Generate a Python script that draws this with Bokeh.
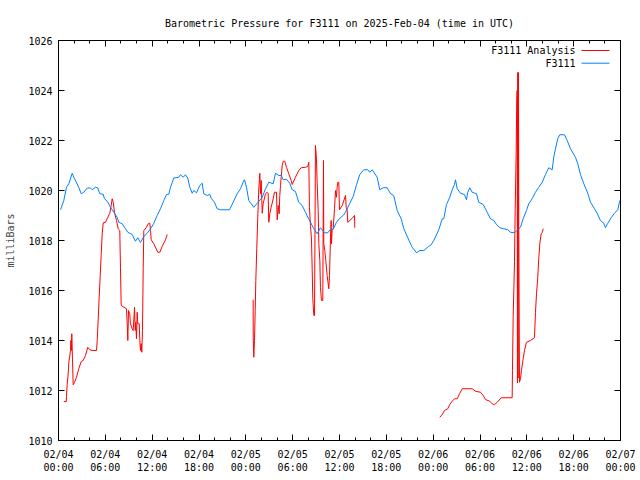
import math
from bokeh.plotting import figure
from bokeh.models import Range1d, FixedTicker, LinearAxis, Label, Arrow
from bokeh.embed import file_html
from bokeh.resources import INLINE

TITLE = "Barometric Pressure for F3111 on 2025-Feb-04 (time in UTC)"
Y_LABEL = "milliBars"
SERIES_NAMES = ["F3111 Analysis", "F3111"]

# x axis: hours since 2025-02-04 00:00 UTC
x_tick_hours = [0, 6, 12, 18, 24, 30, 36, 42, 48, 54, 60, 66, 72]
x_tick_labels = ["02/04\n00:00", "02/04\n06:00", "02/04\n12:00", "02/04\n18:00",
                 "02/05\n00:00", "02/05\n06:00", "02/05\n12:00", "02/05\n18:00",
                 "02/06\n00:00", "02/06\n06:00", "02/06\n12:00", "02/06\n18:00",
                 "02/07\n00:00"]
x_minor_hours = list(range(0, 73, 2))
y_ticks = [1010, 1012, 1014, 1016, 1018, 1020, 1022, 1024, 1026]

# F3111 station pressure
station_hours = [0.26, 0.68, 1.02, 1.32, 1.76, 1.96, 2.60, 2.91, 3.24, 3.68, 4.10, 4.32,
                 4.74, 5.03, 5.29, 5.73, 5.89, 6.24, 6.66, 7.08, 7.52, 7.72, 8.16, 8.58,
                 8.88, 9.44, 9.86, 10.16, 10.50, 10.93, 11.36, 11.79, 12.21, 12.64, 13.07,
                 13.49, 13.84, 14.13, 14.35, 14.77, 15.41, 15.63, 15.97, 16.27, 16.56,
                 16.82, 17.13, 17.33, 17.68, 18.10, 18.41, 18.61, 19.05, 19.38, 19.56,
                 19.98, 20.33, 20.75, 21.91, 22.38, 22.89, 23.32, 23.74, 23.83, 24.08,
                 24.38, 25.02, 25.46, 26.10, 26.52, 26.94, 27.51, 27.80, 28.22, 28.53,
                 28.79, 29.21, 29.63, 29.94, 30.36, 30.78, 31.22, 31.64, 32.28, 32.71,
                 33.14, 33.56, 34.08, 34.50, 34.85, 35.19, 35.61, 36.04, 36.47, 36.77,
                 37.32, 37.75, 38.18, 38.60, 39.11, 39.62, 39.88, 40.19, 40.83, 41.16,
                 41.60, 42.11, 42.53, 42.95, 43.39, 43.90, 44.24, 44.75, 45.31, 45.86,
                 46.29, 46.80, 47.44, 47.66, 48.08, 48.72, 49.16, 49.36, 49.71, 50.13,
                 50.44, 50.73, 50.86, 51.08, 51.50, 52.01, 52.27, 52.43, 52.69, 53.00,
                 53.55, 53.84, 54.41, 54.92, 55.34, 55.77, 56.11, 56.53, 57.05, 57.56,
                 57.90, 58.42, 58.84, 59.19, 59.53, 59.95, 60.25, 60.68, 61.11, 61.53,
                 61.97, 62.39, 62.81, 63.25, 63.45, 63.67, 63.96, 64.22, 64.82, 65.17,
                 65.59, 66.23, 66.53, 66.87, 67.30, 67.81, 68.16, 68.67, 69.01, 69.43,
                 69.86, 70.07, 70.37, 70.80, 71.23, 71.65, 71.91]
station_mb = [1019.23, 1019.60, 1020.13, 1020.27, 1020.69, 1020.53, 1020.13, 1019.87,
              1019.93, 1020.10, 1020.10, 1020.03, 1020.13, 1020.10, 1019.87, 1019.85,
              1019.67, 1019.57, 1019.33, 1019.13, 1018.93, 1018.73, 1018.67, 1018.47,
              1018.33, 1018.24, 1017.97, 1018.11, 1017.92, 1018.16, 1018.29, 1018.47,
              1018.69, 1019.00, 1019.27, 1019.60, 1019.84, 1019.85, 1020.13, 1020.50,
              1020.53, 1020.63, 1020.53, 1020.63, 1020.50, 1020.13, 1019.89, 1020.00,
              1019.91, 1020.20, 1020.29, 1019.87, 1019.80, 1019.85, 1019.69, 1019.53,
              1019.27, 1019.23, 1019.23, 1019.53, 1019.87, 1020.07, 1020.40, 1020.43,
              1020.13, 1019.60, 1019.33, 1019.49, 1019.73, 1020.07, 1020.33, 1020.27,
              1020.69, 1020.60, 1020.60, 1020.43, 1020.45, 1020.29, 1020.03, 1019.96,
              1019.53, 1019.40, 1019.13, 1018.73, 1018.47, 1018.27, 1018.51, 1018.31,
              1018.31, 1018.45, 1018.45, 1018.73, 1018.89, 1019.00, 1019.13, 1019.49,
              1019.76, 1020.23, 1020.64, 1020.83, 1020.83, 1020.73, 1020.83, 1020.53,
              1020.03, 1020.11, 1020.11, 1019.87, 1019.80, 1019.20, 1018.87, 1018.47,
              1018.11, 1017.73, 1017.51, 1017.60, 1017.60, 1017.77, 1017.80, 1018.00,
              1018.43, 1018.87, 1018.87, 1019.44, 1019.73, 1020.03, 1020.24, 1020.43,
              1020.07, 1019.89, 1019.84, 1019.63, 1019.93, 1020.11, 1019.93, 1019.87,
              1019.53, 1019.44, 1019.13, 1018.87, 1018.80, 1018.64, 1018.51, 1018.47,
              1018.43, 1018.33, 1018.31, 1018.43, 1018.53, 1018.87, 1019.20, 1019.47,
              1019.67, 1019.93, 1020.13, 1020.33, 1020.64, 1020.91, 1020.83, 1021.33,
              1021.67, 1022.07, 1022.23, 1022.23, 1022.00, 1021.67, 1021.33, 1021.07,
              1020.64, 1020.27, 1019.89, 1019.53, 1019.27, 1019.09, 1018.80, 1018.69,
              1018.51, 1018.69, 1018.91, 1019.09, 1019.23, 1019.60]

# F3111 Analysis (gaps marked with NaN)
NAN = float("nan")
analysis_hours = [0.68, 0.99, 1.02, 1.11, 1.24, 1.32, 1.54, 1.58, 1.67, 1.70, 1.79, 1.88,
                  2.05, 2.31, 2.60, 2.91, 3.16, 3.46, 3.75, 4.01, 4.32, 4.87, 4.96, 5.09,
                  5.21, 5.34, 5.47, 5.60, 5.73, 6.02, 6.32, 6.57, 6.75, 6.88, 7.01, 7.17,
                  7.43, 7.65, 7.85, 7.94, 8.03, 8.37, 8.71, 8.80, 8.88, 8.97, 9.13, 9.22,
                  9.44, 9.57, 9.74, 9.83, 9.90, 9.99, 10.08, 10.16, 10.34, 10.42, 10.50,
                  10.59, 10.67, 10.76, 10.85, 10.93, 11.27, 11.49, 11.70, 11.79, 11.88,
                  12.21, 12.72, 12.98, 13.28, 13.71, 13.93,
                  NAN,
                  24.94, 24.95, 25.02, 25.11, 25.20, 25.28, 25.40, 25.53, 25.66, 25.79,
                  25.88, 25.97, 26.10, 26.22, 26.52, 26.74, 26.86, 26.94, 27.07, 27.25,
                  27.51, 27.67, 27.93, 28.02, 28.15, 28.27, 28.35, 28.44, 28.53, 28.66,
                  28.79, 28.99, 29.21, 29.50, 29.81, 29.94, 30.36, 30.78, 31.09, 31.64,
                  31.94, 32.07, 32.15, 32.28, 32.41, 32.50, 32.58, 32.71, 32.80, 32.92,
                  33.05, 33.14, 33.27, 33.35, 33.48, 33.56, 33.69, 33.86, 33.95, 33.99,
                  34.12, 34.24, 34.42, 34.63, 34.72, 34.85, 34.93, 34.97, 35.06, 35.19,
                  35.36, 35.49, 35.61, 35.70, 35.78, 35.91, 36.00, 36.35, 36.77, 36.86,
                  36.99, 37.06, 37.63, 37.92, 37.96,
                  NAN,
                  48.85, 49.16, 49.45, 49.87, 50.13, 50.44, 50.73, 51.08, 51.41, 51.72,
                  53.00, 53.42, 54.06, 54.41, 54.70, 55.25, 55.56, 55.85, 56.20, 56.71,
                  58.12, 58.16, 58.25, 58.42, 58.51, 58.63, 58.71, 58.76, 58.80, 58.84,
                  58.88, 58.93, 58.97, 59.06, 59.19, 59.31, 59.53, 59.70, 59.95, 60.47,
                  60.98, 61.11, 61.24, 61.40, 61.53, 61.66, 61.84, 62.00, 62.09]
analysis_mb = [1011.56, 1011.56, 1011.76, 1012.23, 1012.67, 1013.11, 1013.60, 1014.00,
               1013.60, 1014.27, 1013.27, 1012.23, 1012.33, 1012.53, 1012.87, 1013.16,
               1013.20, 1013.40, 1013.73, 1013.63, 1013.60, 1013.60, 1014.00, 1014.87,
               1015.73, 1016.56, 1017.44, 1018.27, 1018.71, 1018.73, 1018.93, 1019.09,
               1019.40, 1019.67, 1019.53, 1019.13, 1018.80, 1018.47, 1018.40, 1016.93,
               1015.40, 1015.33, 1015.27, 1014.67, 1014.00, 1015.20, 1015.07, 1014.67,
               1014.47, 1014.40, 1015.33, 1014.40, 1014.73, 1014.07, 1015.13, 1014.67,
               1014.67, 1014.00, 1013.60, 1013.87, 1013.53, 1014.40, 1016.87, 1018.40,
               1018.53, 1018.67, 1018.69, 1018.40, 1018.03, 1017.87, 1017.53, 1017.53,
               1017.76, 1018.03, 1018.24,
               NAN,
               1015.63, 1014.13, 1013.33, 1014.00, 1015.20, 1016.40, 1017.67, 1018.93,
               1020.07, 1020.69, 1019.87, 1020.40, 1019.09, 1019.47, 1019.87, 1019.93,
               1019.87, 1018.73, 1019.07, 1019.33, 1019.67, 1019.93, 1019.93, 1018.83,
               1019.40, 1019.07, 1019.80, 1020.20, 1020.53, 1021.00, 1021.17, 1021.17,
               1020.93, 1020.67, 1020.40, 1020.24, 1020.53, 1020.80, 1020.91, 1020.93,
               1020.96, 1021.13, 1019.33, 1018.60, 1018.07, 1016.87, 1015.67, 1015.00,
               1015.00, 1021.80, 1021.27, 1020.27, 1019.20, 1017.87, 1017.20, 1016.13,
               1015.60, 1015.60, 1021.20, 1017.87, 1017.60, 1017.20, 1016.60, 1016.07,
               1016.60, 1018.13, 1018.80, 1017.87, 1018.40, 1018.47, 1019.27, 1020.00,
               1019.73, 1020.13, 1020.33, 1020.33, 1019.23, 1019.40, 1019.80, 1019.33,
               1019.20, 1018.73, 1018.89, 1019.00, 1018.51,
               NAN,
               1010.93, 1011.04, 1011.20, 1011.27, 1011.44, 1011.57, 1011.67, 1011.67,
               1011.89, 1012.07, 1012.07, 1011.97, 1011.93, 1011.80, 1011.64, 1011.57,
               1011.47, 1011.43, 1011.53, 1011.71, 1011.71, 1012.80, 1014.96, 1017.16,
               1019.27, 1021.44, 1023.60, 1024.00, 1012.31, 1024.72, 1012.50, 1024.72,
               1018.53, 1012.33, 1012.47, 1012.80, 1013.27, 1013.60, 1013.93, 1014.00,
               1014.11, 1015.13, 1015.87, 1016.53, 1017.27, 1017.87, 1018.27, 1018.33,
               1018.47]

RED = "#ff0000"
BLUE = "#0080ff"
FONT = "DejaVu Sans Mono"
FS = "10px"

p = figure(width=640, height=480, output_backend="svg", toolbar_location=None,
           x_range=Range1d(0, 72), y_range=Range1d(1010, 1026),
           min_border_left=58, min_border_right=20, min_border_top=40,
           min_border_bottom=40)
p.background_fill_color = "white"
p.border_fill_color = "white"
p.outline_line_color = "black"
p.outline_line_width = 1
p.grid.visible = False

p.title.text = TITLE
p.title.align = "center"
p.title.text_font = FONT
p.title.text_font_size = FS
p.title.text_font_style = "normal"
p.title.text_color = "black"
p.title.standoff = 24

bottom_axis = p.below[0]
left_axis = p.left[0]
top_axis = LinearAxis()
right_axis = LinearAxis()
p.add_layout(top_axis, "above")
p.add_layout(right_axis, "right")

xt = FixedTicker(ticks=x_tick_hours, minor_ticks=x_minor_hours)
yt = FixedTicker(ticks=y_ticks, minor_ticks=[])
for ax in (bottom_axis, top_axis):
    ax.ticker = xt
for ax in (left_axis, right_axis):
    ax.ticker = yt

for ax in (bottom_axis, top_axis, left_axis, right_axis):
    ax.axis_line_color = None
    ax.major_tick_line_color = "black"
    ax.minor_tick_line_color = "black"
    ax.major_tick_in = 6
    ax.major_tick_out = 0
    ax.minor_tick_in = 3
    ax.minor_tick_out = 0
    ax.major_label_text_font = FONT
    ax.major_label_text_font_size = FS
    ax.major_label_text_color = "black"

bottom_axis.major_label_overrides = {h: lab for h, lab in zip(x_tick_hours, x_tick_labels)}
bottom_axis.major_label_standoff = 8
left_axis.major_label_overrides = {v: str(v) for v in y_ticks}
left_axis.major_label_standoff = 6
left_axis.axis_label = Y_LABEL
left_axis.axis_label_text_font = FONT
left_axis.axis_label_text_font_size = FS
left_axis.axis_label_text_font_style = "normal"
left_axis.axis_label_standoff = 9

for ax in (top_axis, right_axis):
    ax.major_label_text_font_size = "0px"
    ax.major_label_standoff = 0
    ax.major_label_text_alpha = 0

p.line(analysis_hours, analysis_mb, line_color=RED, line_width=1)
p.line(station_hours, station_mb, line_color=BLUE, line_width=1)

# gnuplot-style key: text right-aligned, sample line to the right
def px_to_h(px):
    return (px - 58) / 562 * 72

def py_to_mb(py):
    return 1010 + (440 - py) / 400 * 16

for i, (name, col) in enumerate(zip(SERIES_NAMES, [RED, BLUE])):
    yy = py_to_mb(50 + i * 12.7)
    p.add_layout(Label(x=px_to_h(575), y=yy, text=name, text_align="right",
                       text_baseline="middle", text_font=FONT, text_font_size=FS,
                       text_color="black"))
    p.add_layout(Arrow(end=None, x_start=px_to_h(581), x_end=px_to_h(609),
                       y_start=yy, y_end=yy, line_color=col, line_width=1))

open("out.html", "w").write(file_html(p, INLINE))
